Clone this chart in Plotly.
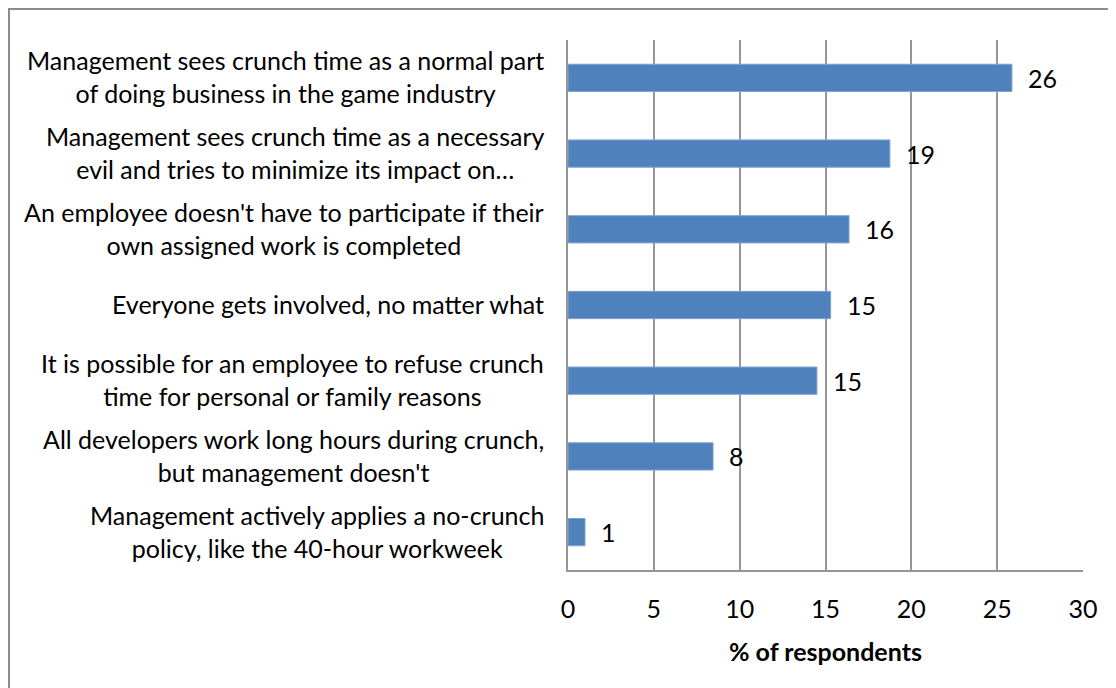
import plotly.graph_objects as go

categories = [
    "Management sees crunch time as a normal part<br>of doing business in the game industry",
    "Management sees crunch time as a necessary<br>evil and tries to minimize its impact on…",
    "An employee doesn't have to participate if their<br>own assigned work is completed",
    "Everyone gets involved, no matter what",
    "It is possible for an employee to refuse crunch<br>time for personal or family reasons",
    "All developers work long hours during crunch,<br>but management doesn't",
    "Management actively applies a no-crunch<br>policy, like the 40-hour workweek",
]
values = [25.86, 18.75, 16.37, 15.3, 14.5, 8.45, 0.99]
value_labels = ["26", "19", "16", "15", "15", "8", "1"]
x_ticks = [0, 5, 10, 15, 20, 25, 30]
x_title = "% of respondents"

FONT = "Lato"
FS = 25
OFF = 8  # page body margin
W, H = 1116 - OFF, 688 - OFF
L, R, T, B = 568 - OFF, 1083 - OFF, 40 - OFF, 570 - OFF

fig = go.Figure()
fig.add_trace(go.Bar(
    y=categories, x=values, orientation="h",
    marker=dict(color="#4F81BD", line=dict(color="#7EA3D3", width=1)),
    width=0.36, hoverinfo="skip",
))

for c, v, t in zip(categories, values, value_labels):
    fig.add_annotation(x=v, y=c, xref="x", yref="y", text=t, showarrow=False,
                       xanchor="left", xshift=14, font=dict(family=FONT, size=FS, color="#000"))
    fig.add_annotation(x=0, y=c, xref="paper", yref="y", text=c, showarrow=False,
                       xanchor="right", align="center", xshift=-22, yshift=1,
                       font=dict(family=FONT, size=FS, color="#000"))

def px(x):
    return (x - L) / (R - L)

def py(y):
    return (B - y) / (B - T)

border = dict(color="#8C8C8C", width=2)
fig.add_shape(type="line", xref="paper", yref="paper", x0=px(0), x1=px(W + 10), y0=py(1), y1=py(1), line=border)
fig.add_shape(type="line", xref="paper", yref="paper", x0=px(1), x1=px(1), y0=py(0), y1=py(H + 10), line=border)

fig.update_layout(
    width=W, height=H,
    margin=dict(l=L, r=W - R, t=T, b=H - B),
    paper_bgcolor="white", plot_bgcolor="white",
    showlegend=False,
    font=dict(family=FONT, size=FS, color="#000"),
    xaxis=dict(range=[0, 30], tickvals=x_ticks, showgrid=True, gridcolor="#969696", gridwidth=1.5,
               showline=True, linecolor="#969696", linewidth=1.5, mirror=False,
               zeroline=False, ticks="", ticklabelstandoff=16,
               tickfont=dict(family=FONT, size=FS),
               title=dict(text="<b>" + x_title + "</b>", standoff=22, font=dict(family=FONT, size=FS))),
    yaxis=dict(categoryorder="array", categoryarray=categories[::-1], showticklabels=False,
               showline=True, linecolor="#969696", linewidth=1.5, showgrid=False, ticks=""),
)

fig.write_html("out.html")
